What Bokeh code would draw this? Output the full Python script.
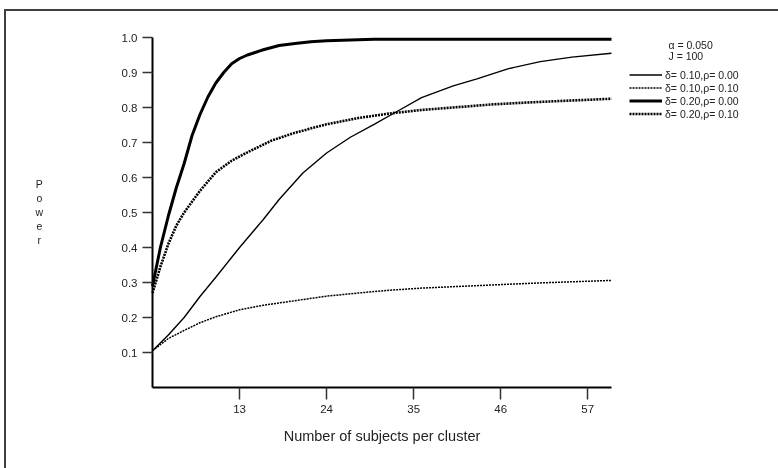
from bokeh.plotting import figure
from bokeh.models import Range1d, FixedTicker, Label, Legend, LegendItem
from bokeh.embed import file_html
from bokeh.resources import INLINE

FONT = "Liberation Sans"

# ---- data ----
x_ticks = [13, 24, 35, 46, 57]
y_ticks = [0.1, 0.2, 0.3, 0.4, 0.5, 0.6, 0.7, 0.8, 0.9, 1.0]
y_tick_labels = ["0.1", "0.2", "0.3", "0.4", "0.5", "0.6", "0.7", "0.8", "0.9", "1.0"]
x_bounds = (2, 60)
y_bounds = (0, 1.0)

# delta=0.10, rho=0.00
n_a = [2, 4, 6, 8, 10, 13, 16, 18, 21, 24, 27, 30, 33, 36, 40, 43, 47, 51, 55, 60]
p_a = [0.105, 0.15, 0.20, 0.26, 0.315, 0.40, 0.48, 0.537, 0.613, 0.67, 0.715, 0.752,
       0.79, 0.828, 0.862, 0.882, 0.911, 0.931, 0.944, 0.955]

# delta=0.10, rho=0.10
n_b = [2, 4, 6, 8, 10, 13, 16, 20, 24, 28, 32, 36, 40, 45, 50, 55, 60]
p_b = [0.105, 0.14, 0.163, 0.185, 0.202, 0.222, 0.235, 0.248, 0.261, 0.27, 0.278,
       0.284, 0.288, 0.293, 0.298, 0.302, 0.306]

# delta=0.20, rho=0.00
n_c = [2, 3, 4, 5, 6, 7, 8, 9, 10, 11, 12, 13, 14, 16, 18, 20, 22, 24, 27, 30, 35, 40, 50, 60]
p_c = [0.29, 0.40, 0.49, 0.57, 0.64, 0.72, 0.78, 0.83, 0.87, 0.90, 0.925, 0.94, 0.95,
       0.965, 0.977, 0.983, 0.988, 0.991, 0.993, 0.995, 0.995, 0.995, 0.995, 0.995]

# delta=0.20, rho=0.10
n_d = [2, 3, 4, 5, 6, 8, 10, 12, 14, 17, 20, 24, 28, 32, 36, 40, 45, 50, 55, 60]
p_d = [0.27, 0.345, 0.41, 0.462, 0.50, 0.562, 0.615, 0.648, 0.672, 0.705, 0.728, 0.752,
       0.77, 0.783, 0.793, 0.80, 0.809, 0.815, 0.82, 0.825]

series_labels = ["\u03b4= 0.10,\u03c1= 0.00", "\u03b4= 0.10,\u03c1= 0.10",
                 "\u03b4= 0.20,\u03c1= 0.00", "\u03b4= 0.20,\u03c1= 0.10"]
info_lines = ["\u03b1 = 0.050", "J = 100"]
x_title = "Number of subjects per cluster"
y_title = "Power"

# page layout: content box starts at (6, 11), frame fills it
W, H = 780, 462
PX_X = 459 / 58.0     # px per x unit
PX_Y = 350.0          # px per y unit
x0 = 2 - (152 - 6) / PX_X
x1 = 60 + (6 + W - 611) / PX_X
y0 = -(11 + H - 387) / PX_Y
y1 = 1.0 + (37 - 11) / PX_Y

p = figure(width=W, height=H, output_backend="svg", toolbar_location=None,
           x_range=Range1d(x0, x1), y_range=Range1d(y0, y1),
           min_border_left=0, min_border_right=0, min_border_top=0, min_border_bottom=0)
p.styles = {"position": "fixed", "left": "4px", "top": "9px",
            "border-top": "2px solid #404040", "border-left": "2px solid #404040"}
p.outline_line_color = None
p.xgrid.visible = False
p.ygrid.visible = False
p.background_fill_color = "white"
p.border_fill_color = "white"

for ax in (p.xaxis[0], p.yaxis[0]):
    ax.axis_line_width = 2
    ax.axis_line_color = "black"
    ax.major_tick_line_color = "#333333"
    ax.major_tick_line_width = 1.5
    ax.major_tick_in = 0
    ax.minor_tick_line_color = None
    ax.major_label_text_font = FONT
    ax.major_label_text_color = "#222222"
    ax.major_label_text_font_size = "11.5px"

p.xaxis.fixed_location = y_bounds[0]
p.xaxis.bounds = x_bounds
p.xaxis.ticker = FixedTicker(ticks=x_ticks)
p.xaxis.major_tick_out = 12
p.xaxis.major_label_standoff = 5
p.xaxis.axis_label = x_title
p.xaxis.axis_label_text_font = FONT
p.xaxis.axis_label_text_font_style = "normal"
p.xaxis.axis_label_text_font_size = "14.5px"
p.xaxis.axis_label_text_color = "#222222"
p.xaxis.axis_label_standoff = 12

p.yaxis.fixed_location = x_bounds[0]
p.yaxis.bounds = y_bounds
p.yaxis.ticker = FixedTicker(ticks=y_ticks)
p.yaxis.major_label_overrides = {t: l for t, l in zip(y_ticks, y_tick_labels)}
p.yaxis.major_tick_out = 10
p.yaxis.major_label_standoff = 5

r_a = p.line(n_a, p_a, line_color="black", line_width=1.4)
r_b = p.line(n_b, p_b, line_color="black", line_width=1.5, line_dash="2 1")
r_c = p.line(n_c, p_c, line_color="black", line_width=3)
r_d = p.line(n_d, p_d, line_color="black", line_width=2.6, line_dash="2 1")

legend = Legend(items=[LegendItem(label=l, renderers=[r]) for l, r in
                       zip(series_labels, [r_a, r_b, r_c, r_d])],
                location=(623, 339 + (H - 448)), glyph_width=33, glyph_height=13,
                label_height=13, spacing=0, padding=0, margin=0, label_standoff=3,
                border_line_color=None, background_fill_alpha=0,
                label_text_font=FONT, label_text_font_size="10.5px",
                label_text_color="#222222")
p.add_layout(legend)

# alpha / J info text
for txt, yy in zip(info_lines, [0.98, 0.946]):
    p.add_layout(Label(x=67.2, y=yy, text=txt, text_font=FONT, text_font_size="10.5px",
                       text_color="#222222", text_baseline="middle"))

# vertical stacked "Power"
for i, ch in enumerate(y_title):
    p.add_layout(Label(x=-12.3, y=(387 - (183 + 14 * i)) / PX_Y, text=ch, text_font=FONT,
                       text_font_size="10.5px", text_color="#222222",
                       text_align="center", text_baseline="middle"))

open("out.html", "w").write(file_html(p, INLINE))
